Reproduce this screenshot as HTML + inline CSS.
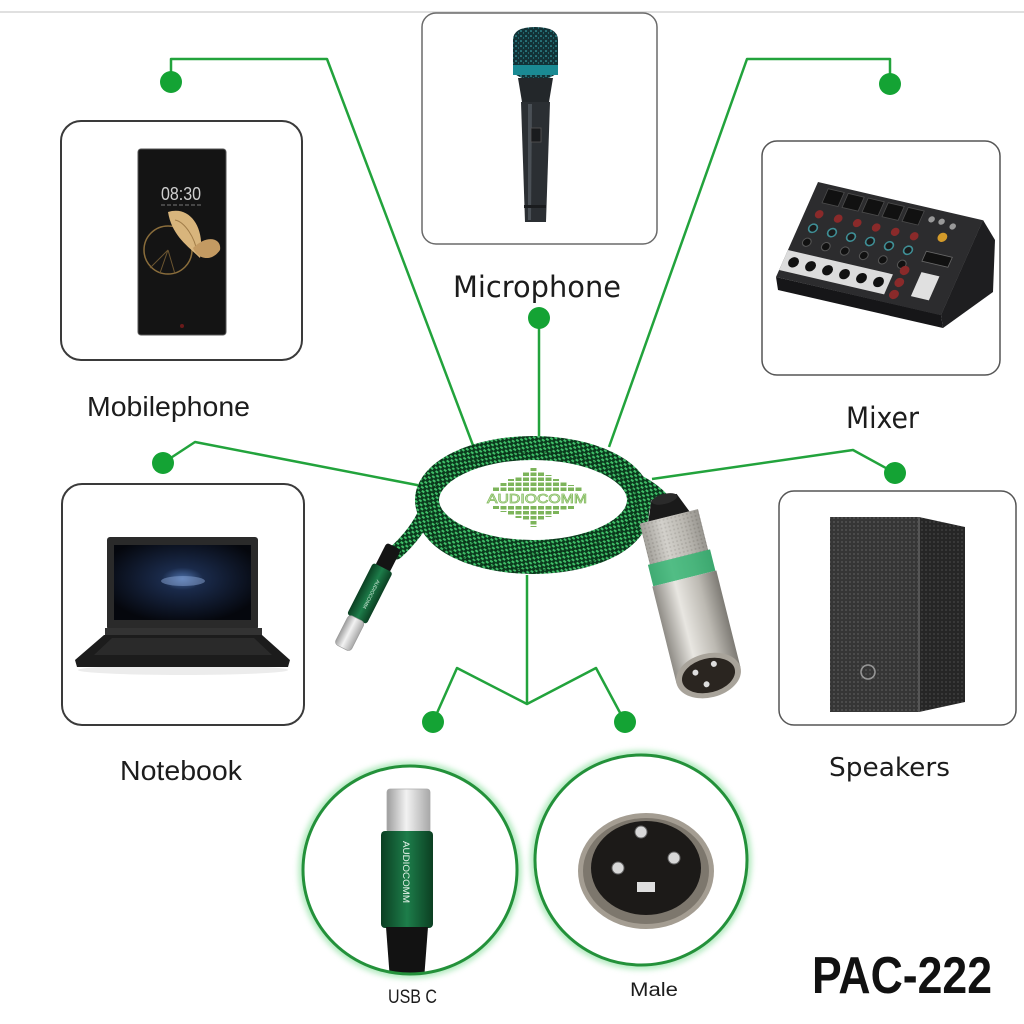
<!DOCTYPE html>
<html><head><meta charset="utf-8">
<style>
html,body{margin:0;padding:0;background:#fff;}
svg{display:block;}
.lb{font-family:"DejaVu Sans","Liberation Sans",sans-serif;fill:#1c1c1c;}
.la{font-family:"Liberation Sans",sans-serif;fill:#1c1c1c;}
</style></head><body>
<svg width="1024" height="1024" viewBox="0 0 1024 1024" xmlns="http://www.w3.org/2000/svg">
<defs>
  <pattern id="braid" width="6" height="6" patternUnits="userSpaceOnUse" patternTransform="rotate(35)">
    <rect width="6" height="6" fill="#0b3a1d"/>
    <rect x="0" y="0" width="3" height="2" fill="#3fbf68"/>
    <rect x="3" y="3" width="3" height="2" fill="#3fbf68"/>
  </pattern>
  <pattern id="dots" width="4" height="4" patternUnits="userSpaceOnUse">
    <rect width="4" height="4" fill="#363636"/>
    <circle cx="2" cy="2" r="0.9" fill="#5a5a5a"/>
  </pattern>
  <pattern id="dots2" width="4" height="4" patternUnits="userSpaceOnUse">
    <rect width="4" height="4" fill="#262626"/>
    <circle cx="2" cy="2" r="0.9" fill="#444"/>
  </pattern>
  <pattern id="speck" width="5" height="5" patternUnits="userSpaceOnUse">
    <rect width="5" height="5" fill="#123236"/>
    <circle cx="1" cy="1" r="0.8" fill="#3fb8c0"/>
    <circle cx="3.5" cy="3" r="0.6" fill="#2a8e96"/>
  </pattern>
  <pattern id="knurl" width="4" height="4" patternUnits="userSpaceOnUse">
    <rect width="4" height="4" fill="#b9b7b1"/>
    <circle cx="2" cy="2" r="1" fill="#8d8a84"/>
  </pattern>
  <linearGradient id="metal" x1="0" x2="1" y1="0" y2="0">
    <stop offset="0" stop-color="#9d9d9d"/><stop offset="0.45" stop-color="#f2f2f2"/><stop offset="1" stop-color="#a8a8a8"/>
  </linearGradient>
  <linearGradient id="metalX" x1="0" x2="1" y1="0" y2="0">
    <stop offset="0" stop-color="#8f8c86"/><stop offset="0.35" stop-color="#e8e6e1"/><stop offset="0.7" stop-color="#bdbab3"/><stop offset="1" stop-color="#7d7a74"/>
  </linearGradient>
  <linearGradient id="greenH" x1="0" x2="1" y1="0" y2="0">
    <stop offset="0" stop-color="#0b3f22"/><stop offset="0.5" stop-color="#1d7d4a"/><stop offset="1" stop-color="#0b3f22"/>
  </linearGradient>
  <radialGradient id="screen" cx="0.5" cy="0.45" r="0.6">
    <stop offset="0" stop-color="#4c6fa8"/><stop offset="0.25" stop-color="#1a2a4a"/><stop offset="1" stop-color="#05070d"/>
  </radialGradient>
  <filter id="blur" x="-20%" y="-20%" width="140%" height="140%"><feGaussianBlur stdDeviation="3"/></filter>
  <clipPath id="c1"><ellipse cx="410" cy="870" rx="106" ry="103"/></clipPath>
  <clipPath id="c2"><ellipse cx="641" cy="860" rx="105" ry="104"/></clipPath>
</defs>

<rect width="1024" height="1024" fill="#fff"/>
<line x1="0" y1="12" x2="1024" y2="12" stroke="#d6d6d6" stroke-width="1.5"/>

<!-- boxes -->
<rect x="61" y="121" width="241" height="239" rx="20" fill="#fff" stroke="#3a3a3a" stroke-width="2"/>
<rect x="422" y="13" width="235" height="231" rx="14" fill="#fff" stroke="#6a6a6a" stroke-width="1.5"/>
<rect x="762" y="141" width="238" height="234" rx="15" fill="#fff" stroke="#555" stroke-width="1.5"/>
<rect x="62" y="484" width="242" height="241" rx="20" fill="#fff" stroke="#3a3a3a" stroke-width="2"/>
<rect x="779" y="491" width="237" height="234" rx="15" fill="#fff" stroke="#555" stroke-width="1.5"/>

<!-- phone -->
<rect x="138" y="149" width="88" height="186" rx="3" fill="#141414" stroke="#555" stroke-width="1"/>
<text x="161" y="200" class="la" font-size="18" fill="#cfcfcf" style="fill:#cfcfcf" textLength="40" lengthAdjust="spacingAndGlyphs">08:30</text>
<line x1="161" y1="205" x2="201" y2="205" stroke="#777" stroke-width="1" stroke-dasharray="4 2"/>
<circle cx="168" cy="250" r="24" fill="none" stroke="#8a6d3b" stroke-width="1.5"/>
<path d="M168,250 L150,268 M168,250 L160,273 M168,250 L175,274" stroke="#6b5530" stroke-width="1"/>
<path d="M168,212 C190,205 206,228 200,258 C188,246 172,236 168,212 Z" fill="#d8b57c"/>
<path d="M175,220 C185,222 195,238 197,252" stroke="#a07c48" stroke-width="1" fill="none"/>
<path d="M193,248 C207,234 222,238 220,250 C212,262 198,260 193,248 Z" fill="#c39a62"/>
<circle cx="182" cy="326" r="2" fill="#6a1a1a"/>

<!-- microphone -->
<path d="M513,40 Q513,27 535,27 Q558,27 558,40 L558,72 Q550,80 536,80 Q520,80 513,72 Z" fill="url(#speck)"/>
<rect x="513" y="65" width="45" height="10" fill="#1a8a93"/>
<path d="M518,78 L553,78 L549,102 L522,102 Z" fill="#23272a"/>
<path d="M521,102 L550,102 L546,222 L525,222 Z" fill="#2b2f33"/>
<path d="M528,104 L532,104 L531,220 L528,220 Z" fill="#4a5056"/>
<rect x="531" y="128" width="10" height="14" fill="#1a1c1e" stroke="#555" stroke-width="0.8"/>
<rect x="524" y="205" width="22" height="3" fill="#1a1c1e"/>

<!-- mixer -->
<polygon points="983,220 995,240 993,292 943,328 941,315" fill="#1e1e20"/>
<polygon points="776,277 941,315 943,328 778,290" fill="#161618"/>
<g transform="matrix(1,0.232,-0.442,1,818,182)">
  <rect x="0" y="0" width="165" height="95" fill="#2c2c2e"/>
  <g fill="#111" stroke="#4a4a4a" stroke-width="0.8">
    <rect x="12" y="4" width="16" height="14"/><rect x="32" y="4" width="16" height="14"/><rect x="52" y="4" width="16" height="14"/><rect x="72" y="4" width="16" height="14"/><rect x="92" y="4" width="16" height="14"/>
  </g>
  <circle cx="118" cy="10" r="3" fill="#999"/><circle cx="128" cy="10" r="3" fill="#999"/><circle cx="140" cy="12" r="3" fill="#999"/>
  <circle cx="135" cy="24" r="4.5" fill="#d49b2a"/>
  <g fill="#8a2a2a"><circle cx="14" cy="29" r="4"/><circle cx="33" cy="29" r="4"/><circle cx="52" cy="29" r="4"/><circle cx="71" cy="29" r="4"/><circle cx="90" cy="29" r="4"/><circle cx="109" cy="29" r="4"/></g>
  <g fill="#1b1b1b" stroke="#3f8f96" stroke-width="1.5"><circle cx="14" cy="43" r="4"/><circle cx="33" cy="43" r="4"/><circle cx="52" cy="43" r="4"/><circle cx="71" cy="43" r="4"/><circle cx="90" cy="43" r="4"/><circle cx="109" cy="43" r="4"/></g>
  <g fill="#111" stroke="#555" stroke-width="1"><circle cx="14" cy="57" r="4"/><circle cx="33" cy="57" r="4"/><circle cx="52" cy="57" r="4"/><circle cx="71" cy="57" r="4"/><circle cx="90" cy="57" r="4"/><circle cx="109" cy="57" r="4"/></g>
  <rect x="0" y="68" width="105" height="20" fill="#dcdcdc"/>
  <g fill="#111"><circle cx="10" cy="78" r="5"/><circle cx="27" cy="78" r="5"/><circle cx="44" cy="78" r="5"/><circle cx="61" cy="78" r="5"/><circle cx="78" cy="78" r="5"/><circle cx="95" cy="78" r="5"/></g>
  <g fill="#8a2a2a"><circle cx="114" cy="62" r="4.5"/><circle cx="114" cy="74" r="4.5"/><circle cx="114" cy="86" r="4.5"/></g>
  <rect x="126" y="40" width="26" height="10" fill="#111" stroke="#666" stroke-width="0.8"/>
  <rect x="130" y="60" width="18" height="24" fill="#e0e0e0"/>
</g>

<!-- laptop -->
<ellipse cx="183" cy="670" rx="105" ry="5" fill="#ececec"/>
<rect x="107" y="537" width="151" height="93" rx="3" fill="#2a2a2a"/>
<rect x="114" y="545" width="137" height="75" fill="url(#screen)"/>
<ellipse cx="183" cy="581" rx="22" ry="5" fill="#8aa6d6" opacity="0.5"/>
<rect x="105" y="628" width="157" height="8" fill="#333"/>
<polygon points="104,635 262,635 290,660 288,667 77,667 75,660" fill="#1c1c1c"/>
<polygon points="112,638 254,638 272,655 94,655" fill="#2a2a2a"/>

<!-- speaker -->
<polygon points="919,517 965,527 965,702 919,712" fill="url(#dots2)"/>
<rect x="830" y="517" width="90" height="195" fill="url(#dots)"/>
<line x1="919" y1="517" x2="919" y2="712" stroke="#555" stroke-width="2"/>
<circle cx="868" cy="672" r="7" fill="none" stroke="#999" stroke-width="1.5"/>

<!-- green connectors -->
<g fill="none" stroke="#22a33c" stroke-width="2.5" stroke-linejoin="round">
  <path d="M171,82 L171,59 L327,59 L474,448"/>
  <path d="M890,84 L890,59 L747,59 L609,447"/>
  <path d="M539,318 L539,436"/>
  <path d="M163,463 L195,442 L422,486"/>
  <path d="M895,473 L853,450 L652,479"/>
  <path d="M527,575 L527,704"/>
  <path d="M433,722 L457,668 L527,704 L596,668 L625,722"/>
</g>
<g fill="#14a334">
  <circle cx="171" cy="82" r="11"/>
  <circle cx="890" cy="84" r="11"/>
  <circle cx="539" cy="318" r="11"/>
  <circle cx="163" cy="463" r="11"/>
  <circle cx="895" cy="473" r="11"/>
  <circle cx="433" cy="722" r="11"/>
  <circle cx="625" cy="722" r="11"/>
</g>

<!-- cable loop -->
<path d="M428,508 Q418,532 396,552" fill="none" stroke="url(#braid)" stroke-width="15" stroke-linecap="round"/>
<path d="M628,478 Q650,486 665,503" fill="none" stroke="url(#braid)" stroke-width="15" stroke-linecap="round"/>
<path d="M429,512 A104,50 0 0 0 637,512" fill="none" stroke="url(#braid)" stroke-width="24"/>
<ellipse cx="533" cy="500" rx="106" ry="52" fill="none" stroke="url(#braid)" stroke-width="24"/>
<ellipse cx="533" cy="503" rx="104" ry="51" fill="none" stroke="#07250f" stroke-width="0.8" opacity="0.6"/>
<path d="M429,520 A104,50 0 0 0 637,520" fill="none" stroke="#07250f" stroke-width="0.8" opacity="0.6"/>

<!-- logo -->
<g stroke="#7cb45a" stroke-width="6" stroke-dasharray="3.5 1.5">
  <line x1="496" y1="491" x2="496" y2="486"/>
  <line x1="503.5" y1="491" x2="503.5" y2="483"/>
  <line x1="511" y1="491" x2="511" y2="479"/>
  <line x1="518.5" y1="491" x2="518.5" y2="476"/>
  <line x1="526" y1="491" x2="526" y2="472"/>
  <line x1="533.5" y1="491" x2="533.5" y2="468"/>
  <line x1="541" y1="491" x2="541" y2="471"/>
  <line x1="548.5" y1="491" x2="548.5" y2="475"/>
  <line x1="556" y1="491" x2="556" y2="479"/>
  <line x1="563.5" y1="491" x2="563.5" y2="482"/>
  <line x1="571" y1="491" x2="571" y2="485"/>
  <line x1="578.5" y1="491" x2="578.5" y2="487"/>
  <line x1="496" y1="506" x2="496" y2="509"/>
  <line x1="503.5" y1="506" x2="503.5" y2="512"/>
  <line x1="511" y1="506" x2="511" y2="515"/>
  <line x1="518.5" y1="506" x2="518.5" y2="518"/>
  <line x1="526" y1="506" x2="526" y2="521"/>
  <line x1="533.5" y1="506" x2="533.5" y2="527"/>
  <line x1="541" y1="506" x2="541" y2="520"/>
  <line x1="548.5" y1="506" x2="548.5" y2="517"/>
  <line x1="556" y1="506" x2="556" y2="514"/>
  <line x1="563.5" y1="506" x2="563.5" y2="511"/>
  <line x1="571" y1="506" x2="571" y2="509"/>
</g>
<text x="487" y="503" class="la" font-size="13" style="fill:#eef7e6;stroke:#86bd62;stroke-width:0.8" textLength="100" lengthAdjust="spacingAndGlyphs">AUDIOCOMM</text>

<!-- USB-C connector -->
<g transform="translate(393,548) rotate(27)">
  <rect x="-8" y="-2" width="16" height="26" rx="3" fill="#141414"/>
  <rect x="-11" y="22" width="22" height="58" rx="3" fill="url(#greenH)"/>
  <text x="0" y="51" transform="rotate(90 0 51)" text-anchor="middle" class="la" font-size="5" style="fill:#cfe8d8">AUDIOCOMM</text>
  <rect x="-9" y="79" width="18" height="33" rx="4" fill="url(#metal)" stroke="#999" stroke-width="0.6"/>
</g>

<!-- XLR connector -->
<g transform="translate(664,497) rotate(-14)">
  <path d="M-13,0 L13,0 L22,22 L-22,22 Z" fill="#1a1a1a"/>
  <ellipse cx="0" cy="2" rx="13" ry="5" fill="#2a2a2a"/>
  <rect x="-30" y="20" width="60" height="44" fill="url(#knurl)"/>
  <rect x="-30" y="20" width="60" height="44" fill="url(#metalX)" opacity="0.55"/>
  <rect x="-32" y="62" width="64" height="22" fill="#2cb36e"/>
  <rect x="-32" y="62" width="64" height="22" fill="url(#metalX)" opacity="0.2"/>
  <rect x="-33" y="84" width="66" height="100" fill="url(#metalX)"/>
  <ellipse cx="0" cy="184" rx="33" ry="22" fill="#a8a39a"/>
  <ellipse cx="0" cy="184" rx="27" ry="17" fill="#2a2520"/>
  <circle cx="-12" cy="178" r="3" fill="#ddd"/>
  <circle cx="8" cy="174" r="3" fill="#ddd"/>
  <circle cx="-4" cy="192" r="3" fill="#ddd"/>
</g>

<!-- bottom circles -->
<ellipse cx="410" cy="870" rx="107" ry="104" fill="none" stroke="#6fd888" stroke-width="9" opacity="0.55" filter="url(#blur)"/>
<ellipse cx="641" cy="860" rx="106" ry="105" fill="none" stroke="#6fd888" stroke-width="9" opacity="0.55" filter="url(#blur)"/>
<g clip-path="url(#c1)">
  <rect x="300" y="760" width="220" height="220" fill="#fff"/>
  <rect x="387" y="789" width="43" height="44" rx="3" fill="url(#metal)" stroke="#aaa" stroke-width="0.8"/>
  <rect x="381" y="831" width="52" height="97" rx="4" fill="url(#greenH)"/>
  <text x="0" y="0" transform="translate(403,872) rotate(90)" text-anchor="middle" class="la" font-size="9" style="fill:#e6f2ea" textLength="62" lengthAdjust="spacingAndGlyphs">AUDIOCOMM</text>
  <polygon points="386,927 428,927 424,980 390,980" fill="#121212"/>
</g>
<g clip-path="url(#c2)">
  <rect x="530" y="750" width="225" height="220" fill="#fff"/>
  <ellipse cx="646" cy="871" rx="68" ry="58" fill="#a49d92"/>
  <ellipse cx="646" cy="871" rx="63" ry="53" fill="#7d776d"/>
  <ellipse cx="646" cy="868" rx="55" ry="47" fill="#1c1a18"/>
  <circle cx="641" cy="832" r="6" fill="#d8d8d8" stroke="#666"/>
  <circle cx="674" cy="858" r="6" fill="#d8d8d8" stroke="#666"/>
  <circle cx="618" cy="868" r="6" fill="#d8d8d8" stroke="#666"/>
  <rect x="637" y="882" width="18" height="10" fill="#dedede"/>
</g>
<ellipse cx="410" cy="870" rx="107" ry="104" fill="none" stroke="#23913a" stroke-width="3"/>
<ellipse cx="641" cy="860" rx="106" ry="105" fill="none" stroke="#23913a" stroke-width="3"/>

<!-- labels -->
<text x="453" y="297" class="lb" font-size="29" textLength="168" lengthAdjust="spacingAndGlyphs">Microphone</text>
<text x="87" y="416" class="la" font-size="28" textLength="163" lengthAdjust="spacingAndGlyphs">Mobilephone</text>
<text x="846" y="428" class="lb" font-size="29" textLength="73" lengthAdjust="spacingAndGlyphs">Mixer</text>
<text x="120" y="780" class="la" font-size="28" textLength="122" lengthAdjust="spacingAndGlyphs">Notebook</text>
<text x="829" y="776" class="lb" font-size="26" textLength="121" lengthAdjust="spacingAndGlyphs">Speakers</text>
<text x="388" y="1003" class="la" font-size="19" textLength="49" lengthAdjust="spacingAndGlyphs">USB C</text>
<text x="630" y="996" class="la" font-size="19" textLength="48" lengthAdjust="spacingAndGlyphs">Male</text>
<text x="812" y="993" class="la" font-size="52" font-weight="bold" style="fill:#111" textLength="180" lengthAdjust="spacingAndGlyphs">PAC-222</text>
</svg>
</body></html>
